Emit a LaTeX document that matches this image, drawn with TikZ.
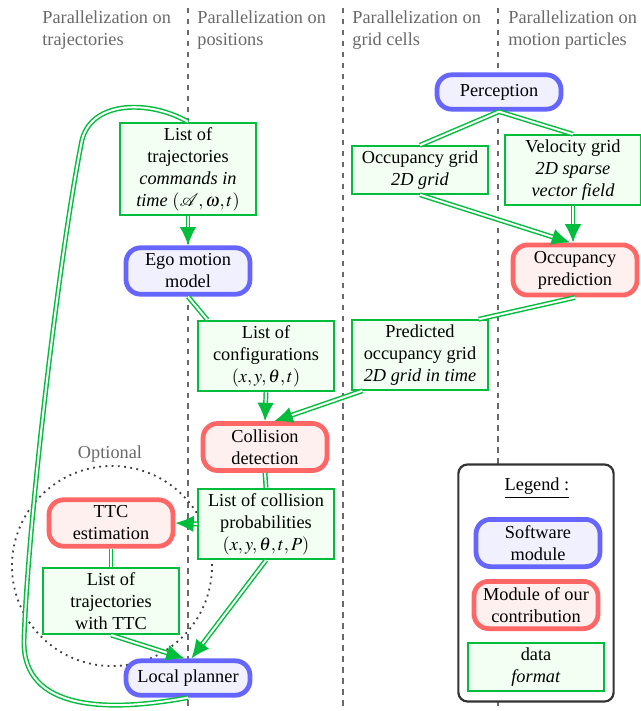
\documentclass[tikz,border=0pt]{standalone}
\usepackage{amsmath}
\usepackage{mathptmx}
\usepackage{mathrsfs}
\usepackage{fontspec}
\setmainfont{Liberation Serif}
\usetikzlibrary{
    arrows.meta,
    positioning,
    calc,
    shapes,
}

\definecolor{modblue}{RGB}{102,102,255}
\definecolor{modbluefill}{RGB}{240,240,255}
\definecolor{modred}{RGB}{255,102,102}
\definecolor{modredfill}{RGB}{255,240,240}
\definecolor{datagreen}{RGB}{0,190,60}
\definecolor{datafill}{RGB}{242,255,242}
\definecolor{sepgray}{RGB}{105,105,105}

\begin{document}
\begin{tikzpicture}[
    x=0.0192cm, y=-0.0192cm,
    >={Latex[length=10pt,width=9pt]},
    module/.style={draw=modblue, fill=modbluefill, line width=2.6pt, rounded corners=8pt, align=center, minimum width=2.38cm, minimum height=0.66cm, text=black},
    contrib/.style={module, draw=modred, fill=modredfill},
    datum/.style={draw=datagreen, fill=datafill, line width=1pt, align=center, minimum width=2.6cm, inner sep=2.5pt},
    flow/.style={draw=datagreen, double=white, double distance=1.1pt, line width=0.8pt},
    column/.style={sepgray, line width=1.2pt, dash pattern=on 3pt off 3pt},
    header/.style={anchor=north west, inner sep=0pt, align=left, text=sepgray},
    ]

\useasboundingbox (0,0) rectangle (640,711);

% columns
\draw[column] (188,8) -- (188,711);
\draw[column] (343,8) -- (343,711);
\draw[column] (498,8) -- (498,711);

\node[header] (hdtraj) at (42,10) {Parallelization on\\trajectories};
\node[header] (hdpos) at (197,10) {Parallelization on\\positions};
\node[header] (hdcell) at (352,10) {Parallelization on\\grid cells};
\node[header] (hdpart) at (508,10) {Parallelization on\\motion particles};

% optional part
\draw[black!75, line width=1pt, dash pattern=on 1pt off 2.4pt] (112,566) circle (1.92cm);
\node[text=sepgray] (optional) at (110,454) {Optional};

% grids
\node[module] (perception) at (499,92) {Perception};
\node[datum] (occgrid) at (420,170) {Occupancy grid\\\textit{2D grid}};
\node[datum] (velgrid) at (573,170) {Velocity grid\\\textit{2D sparse}\\\textit{vector field}};
\node[contrib, minimum height=0.88cm] (occpred) at (575,270) {Occupancy\\prediction};
\node[datum] (predgrid) at (420,355) {Predicted\\occupancy grid\\\textit{2D grid in time}};

% trajectories
\node[datum] (trajlist) at (188,169) {List of\\trajectories\\\textit{commands in}\\\textit{time} $(\mathscr{A},\boldsymbol{\omega},t)$};
\node[module, minimum height=0.88cm] (ego) at (188,271) {Ego motion\\model};
\node[datum] (configs) at (266,356) {List of\\configurations\\$(x,y,\boldsymbol{\theta},t)$};
\node[contrib, minimum height=0.88cm] (collision) at (265,447) {Collision\\detection};
\node[datum] (collprob) at (266,524) {List of collision\\probabilities\\$(x,y,\boldsymbol{\theta},t,P)$};
\node[contrib, minimum height=0.88cm] (ttc) at (111,523) {TTC\\estimation};
\node[datum] (ttclist) at (111,601) {List of\\trajectories\\with TTC};
\node[module] (planner) at (188,678) {Local planner};

% legend
\node[draw=black!80, line width=1.2pt, rounded corners=5pt, fill=white, minimum width=2.98cm, minimum height=4.55cm] (legend) at (536,583) {};
\node (legtitle) at (537,488) {\underline{Legend :}};
\node[module, minimum height=0.88cm] (legsoft) at (538,543) {Software\\module};
\node[contrib, minimum height=0.88cm] (legcontrib) at (536,605) {Module of our\\contribution};
\node[datum] (legdata) at (536,667) {data\\\textit{format}};

% data flow
\draw[flow] (perception.south) -- (occgrid.north);
\draw[flow] (perception.south) -- (velgrid.north);
\draw[flow, ->] (occgrid.south) -- (occpred.100);
\draw[flow, ->] (velgrid.south) -- (velgrid.south |- occpred.north);
\draw[flow] (occpred.south) -- ([xshift=-0.19cm]predgrid.north east);
\draw[flow, ->] ([xshift=0.21cm]predgrid.south west) -- (collision.70);
\draw[flow, ->] (trajlist.south) -- (ego.north);
\draw[flow] (ego.south) -- ([xshift=0.19cm]configs.north west);
\draw[flow, ->] (configs.south) -- (collision.north);
\draw[flow] (collision.south) -- (collprob.north);
\draw[flow, ->] (collprob.west) -- (ttc.east);
\draw[flow] (ttc.south) -- (ttclist.north);
\draw[flow, ->] (ttclist.south) -- (planner.100);
\draw[flow, ->] (collprob.south) -- (planner.80);
\draw[flow] (planner.south) .. controls (110,712) and (22,712) .. (24,640)
    .. controls (28,520) and (60,250) .. (82,140)
    .. controls (92,100) and (150,100) .. (trajlist.north);

\end{tikzpicture}
\end{document}
